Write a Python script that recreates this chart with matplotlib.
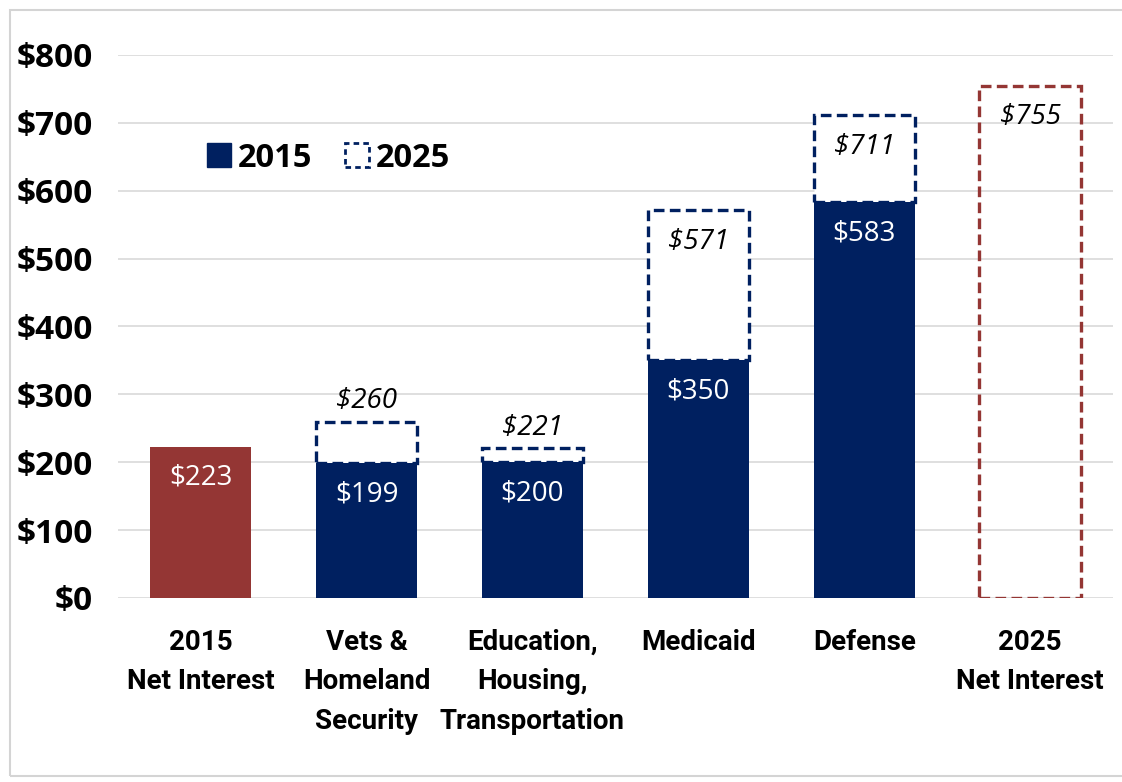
import matplotlib
matplotlib.use("Agg")
import matplotlib.pyplot as plt
from matplotlib.patches import Patch, Rectangle

categories = [
    "2015\nNet Interest",
    "Vets &\nHomeland\nSecurity",
    "Education,\nHousing,\nTransportation",
    "Medicaid",
    "Defense",
    "2025\nNet Interest",
]
net_interest_2015 = 223
net_interest_2025 = 755
spend_2015 = [199, 200, 350, 583]
spend_2025 = [260, 221, 571, 711]
yticks = [0, 100, 200, 300, 400, 500, 600, 700, 800]

navy = "#002060"
red = "#943634"
bar_w = 0.61
dash = (0, (3.2, 1.6))

fig = plt.figure(figsize=(11.22, 7.82), dpi=100)
ax = fig.add_axes([0.105, 0.2353, 0.887, 0.6944])

# light frame around the chart
fig.patches.append(Rectangle((10 / 1122, 1 - 776 / 782), 1.2, 766 / 782,
                             transform=fig.transFigure, fill=False,
                             edgecolor="#d4d4d4", lw=1.5))

x = list(range(len(categories)))
mid = x[1:5]

# 2015 net interest
ax.bar(x[0], net_interest_2015, width=bar_w, color=red, zorder=3)
# 2025 growth boxes (dashed), sitting on top of the 2015 bars
ax.bar(mid, [b - a for a, b in zip(spend_2015, spend_2025)], bottom=spend_2015,
       width=bar_w, facecolor="white", edgecolor=navy, linewidth=2.4,
       linestyle=dash, zorder=2)
ax.bar(mid, spend_2015, width=bar_w, color=navy, zorder=3)
# 2025 net interest
ax.bar(x[5], net_interest_2025, width=bar_w, facecolor="none", edgecolor=red,
       linewidth=2.4, linestyle=dash, zorder=2)

val_kw = dict(ha="center", va="center", fontsize=20, family="Open Sans")
ax.text(x[0], net_interest_2015 - 46, f"${net_interest_2015}", color="white",
        zorder=4, **val_kw)
for xi, v in zip(mid, spend_2015):
    ax.text(xi, v - 46, f"${v}", color="white", zorder=4, **val_kw)
for xi, v15, v25 in zip(mid, spend_2015, spend_2025):
    if v25 - v15 > 100:
        yy = v25 - 46
    else:
        yy = v25 + 30
    ax.text(xi, yy, f"${v25}", color="black", style="italic", zorder=4, **val_kw)
ax.text(x[5], net_interest_2025 - 46, f"${net_interest_2025}", color="black",
        style="italic", zorder=4, **val_kw)

ax.set_xlim(-0.5, 5.5)
ax.set_ylim(0, 800)
ax.set_yticks(yticks)
ax.set_yticklabels([f"${t}" for t in yticks], fontsize=24, fontweight="bold",
                   family="Open Sans")
ax.set_xticks(x)
ax.set_xticklabels(categories, fontsize=20, fontweight="bold",
                   family="Roboto", linespacing=1.6, va="top")
ax.tick_params(axis="both", length=0)
ax.tick_params(axis="y", pad=18)
ax.tick_params(axis="x", pad=22)
ax.grid(axis="y", color="#d9d9d9", linewidth=1.2, zorder=0)
ax.set_axisbelow(True)
for s in ax.spines.values():
    s.set_visible(False)

handles = [Patch(facecolor=navy, edgecolor=navy, label="2015"),
           Patch(facecolor="white", edgecolor=navy, linestyle=(0, (2, 1.5)),
                 linewidth=2, label="2025")]
leg = ax.legend(handles=handles, loc="center left", bbox_to_anchor=(0.06, 0.81),
                ncol=2, frameon=False, handlelength=0.75, handleheight=0.75,
                handletextpad=0.2, columnspacing=1.0,
                prop={"family": "Open Sans", "weight": "bold", "size": 23.5})

fig.savefig("out.png", dpi=100)
